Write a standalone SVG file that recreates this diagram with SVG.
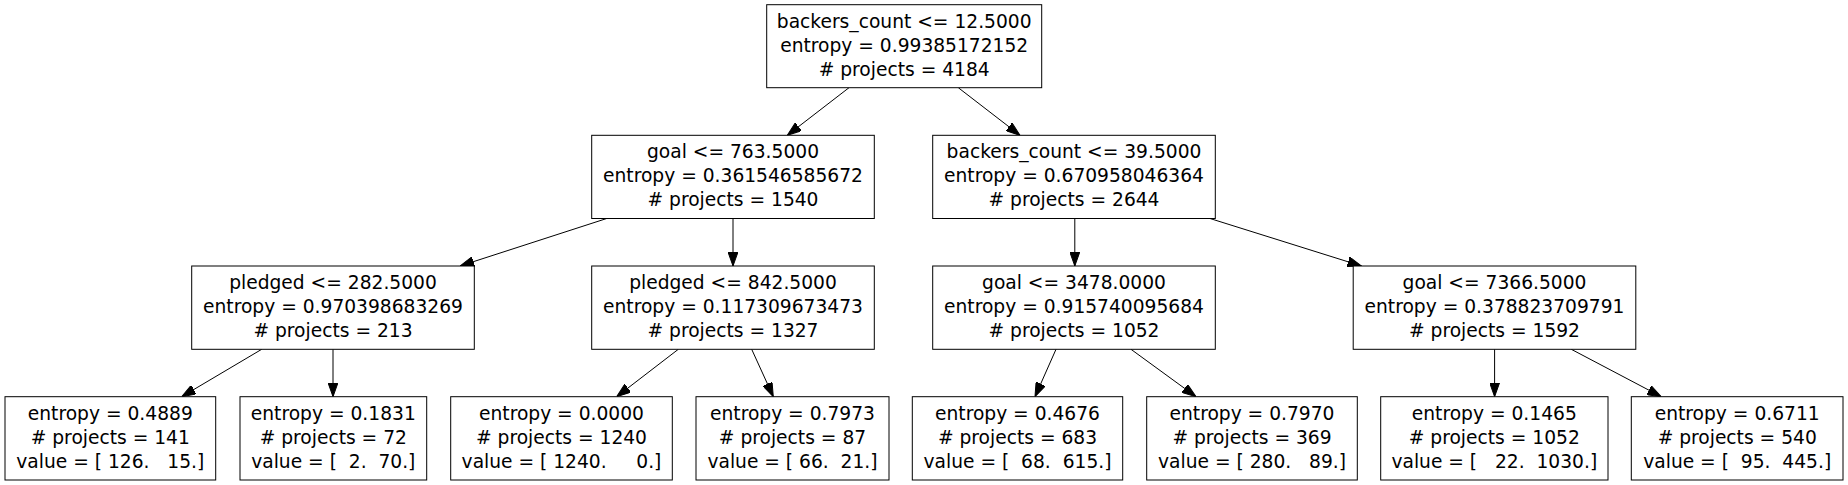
<svg xmlns="http://www.w3.org/2000/svg" width="1848" height="485" viewBox="0 0 1848 485" xml:space="preserve">
<defs>
<style>
.box{fill:#fff;stroke:#000;stroke-width:1}
.t{font-family:"DejaVu Sans","Liberation Sans",sans-serif;font-size:18.67px;fill:#000;text-anchor:middle;white-space:pre}
.e{fill:none;stroke:#000;stroke-width:1;marker-end:url(#arr)}
</style>
<marker id="arr" markerUnits="userSpaceOnUse" viewBox="0 0 14 10" refX="14" refY="5" markerWidth="14" markerHeight="10" orient="auto">
<path d="M0,0 L14,5 L0,10 Z" fill="#000" stroke="#000" stroke-width="1"/>
</marker>
</defs>
<rect width="1848" height="485" fill="#fff"/>
<g id="connectors">
<path class="e" d="M849,87.7 L787.3,135.3"/>
<path class="e" d="M958.3,87.7 L1020,135.3"/>
<path class="e" d="M606.7,218.5 L460,266"/>
<path class="e" d="M733,218.5 L733,266"/>
<path class="e" d="M1074.8,218.5 L1074.8,266"/>
<path class="e" d="M1210,218.5 L1361.5,266"/>
<path class="e" d="M261.7,349.3 L181.7,396.7"/>
<path class="e" d="M333,349.3 L333,396.7"/>
<path class="e" d="M678.3,349.3 L616.7,396.7"/>
<path class="e" d="M751.7,349.3 L773.3,396.7"/>
<path class="e" d="M1056,349.3 L1035,396.7"/>
<path class="e" d="M1131,349.3 L1196,396.7"/>
<path class="e" d="M1494.6,349.3 L1494.6,396.7"/>
<path class="e" d="M1571.3,349.3 L1661.3,396.7"/>
</g>
<g id="n0">
<rect class="box" x="766.7" y="4.7" width="275" height="83"/>
<text class="t" x="904.2" y="27.5">backers_count &lt;= 12.5000</text>
<text class="t" x="904.2" y="51.5">entropy = 0.99385172152</text>
<text class="t" x="904.2" y="75.5"># projects = 4184</text>
</g>
<g id="n1">
<rect class="box" x="591.7" y="135.3" width="282.6" height="83.2"/>
<text class="t" x="733" y="158.1">goal &lt;= 763.5000</text>
<text class="t" x="733" y="182.1">entropy = 0.361546585672</text>
<text class="t" x="733" y="206.1"># projects = 1540</text>
</g>
<g id="n2">
<rect class="box" x="932.7" y="135.3" width="282.6" height="83.2"/>
<text class="t" x="1074" y="158.1">backers_count &lt;= 39.5000</text>
<text class="t" x="1074" y="182.1">entropy = 0.670958046364</text>
<text class="t" x="1074" y="206.1"># projects = 2644</text>
</g>
<g id="n3">
<rect class="box" x="191.7" y="266" width="282.6" height="83.3"/>
<text class="t" x="333" y="288.8">pledged &lt;= 282.5000</text>
<text class="t" x="333" y="312.8">entropy = 0.970398683269</text>
<text class="t" x="333" y="336.8"># projects = 213</text>
</g>
<g id="n4">
<rect class="box" x="591.7" y="266" width="282.6" height="83.3"/>
<text class="t" x="733" y="288.8">pledged &lt;= 842.5000</text>
<text class="t" x="733" y="312.8">entropy = 0.117309673473</text>
<text class="t" x="733" y="336.8"># projects = 1327</text>
</g>
<g id="n5">
<rect class="box" x="932.7" y="266" width="282.6" height="83.3"/>
<text class="t" x="1074" y="288.8">goal &lt;= 3478.0000</text>
<text class="t" x="1074" y="312.8">entropy = 0.915740095684</text>
<text class="t" x="1074" y="336.8"># projects = 1052</text>
</g>
<g id="n6">
<rect class="box" x="1353.2" y="266" width="282.6" height="83.3"/>
<text class="t" x="1494.5" y="288.8">goal &lt;= 7366.5000</text>
<text class="t" x="1494.5" y="312.8">entropy = 0.378823709791</text>
<text class="t" x="1494.5" y="336.8"># projects = 1592</text>
</g>
<g id="n7">
<rect class="box" x="5" y="396.7" width="210.7" height="83.3"/>
<text class="t" x="110.3" y="419.5">entropy = 0.4889</text>
<text class="t" x="110.3" y="443.5"># projects = 141</text>
<text class="t" x="110.3" y="467.5">value = [ 126.   15.]</text>
</g>
<g id="n8">
<rect class="box" x="240" y="396.7" width="186.7" height="83.3"/>
<text class="t" x="333.3" y="419.5">entropy = 0.1831</text>
<text class="t" x="333.3" y="443.5"># projects = 72</text>
<text class="t" x="333.3" y="467.5">value = [  2.  70.]</text>
</g>
<g id="n9">
<rect class="box" x="450.7" y="396.7" width="221.6" height="83.3"/>
<text class="t" x="561.5" y="419.5">entropy = 0.0000</text>
<text class="t" x="561.5" y="443.5"># projects = 1240</text>
<text class="t" x="561.5" y="467.5">value = [ 1240.     0.]</text>
</g>
<g id="n10">
<rect class="box" x="696" y="396.7" width="193" height="83.3"/>
<text class="t" x="792.5" y="419.5">entropy = 0.7973</text>
<text class="t" x="792.5" y="443.5"># projects = 87</text>
<text class="t" x="792.5" y="467.5">value = [ 66.  21.]</text>
</g>
<g id="n11">
<rect class="box" x="912.3" y="396.7" width="210.4" height="83.3"/>
<text class="t" x="1017.5" y="419.5">entropy = 0.4676</text>
<text class="t" x="1017.5" y="443.5"># projects = 683</text>
<text class="t" x="1017.5" y="467.5">value = [  68.  615.]</text>
</g>
<g id="n12">
<rect class="box" x="1146.7" y="396.7" width="210.6" height="83.3"/>
<text class="t" x="1252" y="419.5">entropy = 0.7970</text>
<text class="t" x="1252" y="443.5"># projects = 369</text>
<text class="t" x="1252" y="467.5">value = [ 280.   89.]</text>
</g>
<g id="n13">
<rect class="box" x="1380.7" y="396.7" width="227.3" height="83.3"/>
<text class="t" x="1494.3" y="419.5">entropy = 0.1465</text>
<text class="t" x="1494.3" y="443.5"># projects = 1052</text>
<text class="t" x="1494.3" y="467.5">value = [   22.  1030.]</text>
</g>
<g id="n14">
<rect class="box" x="1631.3" y="396.7" width="211.7" height="83.3"/>
<text class="t" x="1737.2" y="419.5">entropy = 0.6711</text>
<text class="t" x="1737.2" y="443.5"># projects = 540</text>
<text class="t" x="1737.2" y="467.5">value = [  95.  445.]</text>
</g>
</svg>
